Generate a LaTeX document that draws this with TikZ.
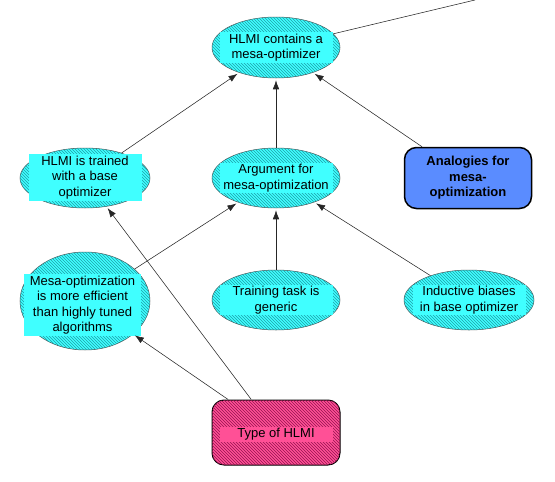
\documentclass[tikz,border=0pt]{standalone}
\usepackage{fontspec}
\setmainfont{Liberation Sans}
\usetikzlibrary{shapes.geometric,patterns,arrows.meta}
\definecolor{hcyan}{RGB}{64,255,255}
\definecolor{hcyanD}{RGB}{30,160,170}
\definecolor{hpink}{RGB}{255,80,150}
\definecolor{hpinkD}{RGB}{150,20,80}
\definecolor{hblue}{RGB}{90,140,255}
\begin{document}
\begin{tikzpicture}[x=1pt,y=-1pt,
  ell/.style={ellipse, draw=black!70, line width=0.5pt, fill=hcyan,
    postaction={pattern=north west lines, pattern color=hcyanD}, inner sep=0pt},
  lbl/.style={fill=hcyan, align=center, font=\fontsize{13}{15.5}\selectfont,
    inner xsep=2pt, inner ysep=1.5pt, minimum width=113pt},
  arr/.style={-{Latex[length=9pt,width=6.5pt]}, line width=0.55pt, black!85, shorten >=2pt},
  plain/.style={line width=0.55pt, black!85}
]
\useasboundingbox (0,0) rectangle (555,482);

% nodes
\node[ell, minimum width=128pt, minimum height=61pt] (contains) at (276,47.5) {};
\node[lbl] (containsT) at (contains.center) {HLMI contains a\\mesa-optimizer};

\node[ell, minimum width=130pt, minimum height=60pt] (trained) at (85,178) {};
\node[lbl] (trainedT) at (85,177.5) {HLMI is trained\\with a base\\optimizer};

\node[ell, minimum width=128pt, minimum height=60pt] (argument) at (276,178) {};
\node[lbl] (argumentT) at (argument.center) {Argument for\\mesa-optimization};

\node[draw=black, line width=1.5pt, rounded corners=12pt, fill=hblue,
  minimum width=127pt, minimum height=61pt, align=center,
  font=\fontsize{13}{15.5}\selectfont\bfseries] (analogies) at (468,178)
  {Analogies for\\mesa-\\optimization};

\node[ell, minimum width=130pt, minimum height=98pt] (efficient) at (85,301) {};
\node[lbl, minimum width=117pt] (efficientT) at (82.5,305) {Mesa-optimization\\is more efficient\\than highly tuned\\algorithms};

\node[ell, minimum width=128pt, minimum height=60pt] (training) at (276,300) {};
\node[lbl] (trainingT) at (training.center) {Training task is\\generic};

\node[ell, minimum width=130pt, minimum height=60pt] (inductive) at (469,300) {};
\node[lbl] (inductiveT) at (inductive.center) {Inductive biases\\in base optimizer};

\node[draw=black, line width=1pt, rounded corners=12pt, fill=hpink,
  postaction={pattern=north west lines, pattern color=hpinkD},
  minimum width=128pt, minimum height=65pt] (type) at (276,432.5) {};
\node[lbl, fill=hpink] (typeT) at (276,434.5) {Type of HLMI};

% connectors
\coordinate (ext) at (475,0);
\draw[plain] (contains) -- (ext);
\draw[arr] (trained) -- (contains);
\draw[arr] (argument) -- (contains);
\draw[arr] (analogies) -- (contains);
\draw[arr] (efficient) -- (argument);
\draw[arr] (training) -- (argument);
\draw[arr] (inductive) -- (argument);
\draw[arr] (type) -- (trained);
\draw[arr] (type) -- (efficient);
\end{tikzpicture}
\end{document}
